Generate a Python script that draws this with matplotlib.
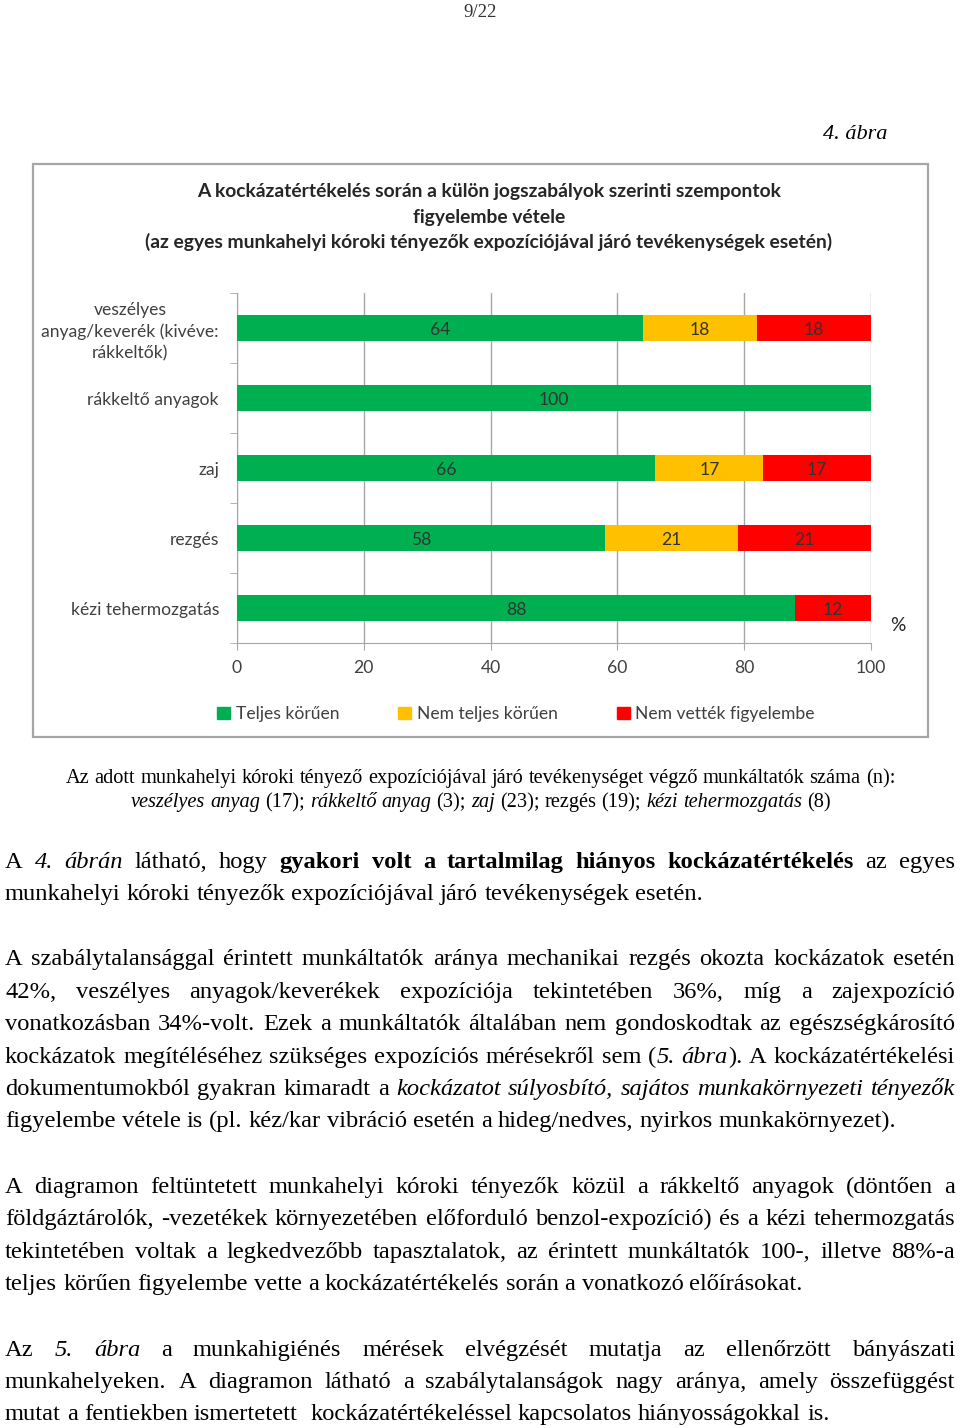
import matplotlib
matplotlib.use('Agg')
import numpy as np
import matplotlib.pyplot as plt
from matplotlib.patches import Rectangle, Patch
from matplotlib import font_manager

# chart data
categories = ['veszélyes\nanyag/keverék (kivéve:\nrákkeltők)', 'rákkeltő anyagok',
              'zaj', 'rezgés', 'kézi tehermozgatás']
teljes = [64, 100, 66, 58, 88]
nem_teljes = [18, 0, 17, 21, 0]
nem_vettek = [18, 0, 17, 21, 12]
series_names = ['Teljes körűen', 'Nem teljes körűen', 'Nem vették figyelembe']
series_colors = ['#00b050', '#ffc000', '#ff0000']
x_ticks = [0, 20, 40, 60, 80, 100]
chart_title = ['A kockázatértékelés során a külön jogszabályok szerinti szempontok',
               'figyelembe vétele',
               '(az egyes munkahelyi kóroki tényezők expozíciójával járó tevékenységek esetén)']

# page text  (_ = italic, * = bold)
page_no = '9/22'
fig_label = '4. ábra'
caption = ['Az adott munkahelyi kóroki tényező expozíciójával járó tevékenységet végző munkáltatók száma (n):',
           '_veszélyes anyag_ (17); _rákkeltő anyag_ (3); _zaj_ (23); rezgés (19); _kézi tehermozgatás_ (8)']
paragraphs = [
    ['A _4. ábrán_ látható, hogy *gyakori volt a tartalmilag hiányos kockázatértékelés* az egyes',
     'munkahelyi kóroki tényezők expozíciójával járó tevékenységek esetén.'],
    ['A szabálytalansággal érintett munkáltatók aránya mechanikai rezgés okozta kockázatok esetén',
     '42%, veszélyes anyagok/keverékek expozíciója tekintetében 36%, míg a zajexpozíció',
     'vonatkozásban 34%-volt. Ezek a munkáltatók általában nem gondoskodtak az egészségkárosító',
     'kockázatok megítéléséhez szükséges expozíciós mérésekről sem (_5. ábra_). A kockázatértékelési',
     'dokumentumokból gyakran kimaradt a _kockázatot súlyosbító, sajátos munkakörnyezeti tényezők_',
     'figyelembe vétele is (pl. kéz/kar vibráció esetén a hideg/nedves, nyirkos munkakörnyezet).'],
    ['A diagramon feltüntetett munkahelyi kóroki tényezők közül a rákkeltő anyagok (döntően a',
     'földgáztárolók, -vezetékek környezetében előforduló benzol-expozíció) és a kézi tehermozgatás',
     'tekintetében voltak a legkedvezőbb tapasztalatok, az érintett munkáltatók 100-, illetve 88%-a',
     'teljes körűen figyelembe vette a kockázatértékelés során a vonatkozó előírásokat.'],
    ['Az _5. ábra_ a munkahigiénés mérések elvégzését mutatja az ellenőrzött bányászati',
     'munkahelyeken. A diagramon látható a szabálytalanságok nagy aránya, amely összefüggést',
     'mutat a fentiekben ismertetett  kockázatértékeléssel kapcsolatos hiányosságokkal is.'],
]
para_line_y = [[860, 892], [957, 990, 1022, 1055, 1087, 1119],
               [1185, 1217, 1250, 1282], [1348, 1380, 1412]]

W, H = 960, 1428
fig = plt.figure(figsize=(9.6, 14.28), dpi=100)
renderer = fig.canvas.get_renderer()

have = {f.name for f in font_manager.fontManager.ttflist}
sans = 'Liberation Sans Narrow' if 'Liberation Sans Narrow' in have else 'Lato'
serif = 'Liberation Serif'


def fx(x):
    return x / W


def fy(y):
    return 1 - y / H


def width_of(s, **kw):
    t = fig.text(0, 0, s, **kw)
    w = t.get_window_extent(renderer).width
    t.remove()
    return w


def size_for(s, target, **kw):
    return 10 * target / width_of(s, fontsize=10, **kw)


def parse(line):
    # split a marked line into words made of (text, style) segments
    words, cur, buf, style = [], [], '', 'n'
    for ch in line:
        if ch in '_*':
            if buf:
                cur.append((buf, style))
                buf = ''
            mark = 'i' if ch == '_' else 'b'
            style = 'n' if style == mark else mark
        elif ch == ' ':
            if buf:
                cur.append((buf, style))
                buf = ''
            words.append(cur)
            cur = []
        else:
            buf += ch
    if buf:
        cur.append((buf, style))
    words.append(cur)
    return words


def seg_kw(style, size):
    kw = dict(fontsize=size, family=serif, color='black', va='baseline', ha='left')
    if style == 'i':
        kw['style'] = 'italic'
    if style == 'b':
        kw['weight'] = 'bold'
    return kw


def put_line(line, y, size, x0=5, x1=955, mode='left'):
    words = parse(line)
    objs, widths = [], []
    for wd in words:
        row = []
        for txt, st in wd:
            t = fig.text(0, fy(y), txt, **seg_kw(st, size))
            row.append((t, t.get_window_extent(renderer).width))
        objs.append(row)
        widths.append(sum(w for _, w in row))
    space = 0.25 * size * 100 / 72
    total = sum(widths) + space * (len(words) - 1)
    if mode == 'justify' and len(words) > 1:
        gap = (x1 - x0 - sum(widths)) / (len(words) - 1)
        x = x0
    else:
        gap = space
        x = x0 if mode == 'left' else (x0 + x1) / 2 - total / 2
    for row, w in zip(objs, widths):
        xx = x
        for t, sw in row:
            t.set_x(fx(xx))
            xx += sw
        x += w + gap


# ---------- page header ----------
fig.text(fx(480), fy(17), page_no, fontsize=13.5, family=serif, ha='center', va='baseline', color='#333333')
fig.text(fx(887), fy(139), fig_label, fontsize=16, family=serif, style='italic',
         ha='right', va='baseline')

# ---------- chart ----------
fig.add_artist(Rectangle((fx(33), fy(737)), fx(928) - fx(33), fy(164) - fy(737),
                         transform=fig.transFigure, fill=False, edgecolor='#a6a6a6', lw=1.6))

tsize = size_for(chart_title[0], 585, family=sans, weight='bold')
for i, ln in enumerate(chart_title):
    fig.text(fx(489), fy(192 + 25 * i), ln, fontsize=tsize, family=sans, weight='bold',
             ha='center', va='center', color='#262626')

csize = size_for('kézi tehermozgatás', 148, family=sans)
ax = fig.add_axes([fx(237), fy(643), fx(871) - fx(237), fy(293) - fy(643)])
y = np.arange(len(categories))
left = np.zeros(len(categories))
for vals, name, col in zip([teljes, nem_teljes, nem_vettek], series_names, series_colors):
    vals = np.array(vals, dtype=float)
    bars = ax.barh(y, vals, left=left, height=0.38, color=col, label=name, zorder=3)
    for b, v in zip(bars, vals):
        if v > 0:
            ax.text(b.get_x() + b.get_width() / 2, b.get_y() + b.get_height() / 2 + 0.03, f'{v:.0f}',
                    ha='center', va='center', fontsize=csize, family=sans, color='#333333', zorder=4)
    left += vals

ax.set_xlim(0, 100)
ax.set_ylim(len(categories) - 0.5, -0.5)
ax.set_xticks(x_ticks)
ax.set_xticklabels([str(v) for v in x_ticks], fontsize=csize, family=sans, color='#404040')
ax.set_yticks(y)
ax.set_yticklabels(categories, fontsize=csize, family=sans, color='#404040',
                   multialignment='center', linespacing=1.4)
ax.set_yticks(np.arange(-0.5, len(categories)), minor=True)
ax.tick_params(axis='y', which='major', length=0, pad=13)
ax.tick_params(axis='y', which='minor', length=5, color='#a6a6a6')
ax.tick_params(axis='x', length=5, color='#a6a6a6', pad=7)
ax.grid(axis='x', color='#a6a6a6', lw=1, zorder=0)
for s in ['top', 'right']:
    ax.spines[s].set_visible(False)
for s in ['left', 'bottom']:
    ax.spines[s].set_color('#a6a6a6')
ax.text(1.043, 0.05, '%', transform=ax.transAxes, fontsize=csize * 1.1, family=sans,
        color='#262626', ha='center', va='center')

handles = [Patch(color=c) for c in series_colors]
fig.legend(handles, series_names, loc='center', bbox_to_anchor=(fx(516), fy(714)), ncol=3,
           frameon=False, prop={'family': sans, 'size': csize}, handlelength=0.75,
           handleheight=0.75, handletextpad=0.3, columnspacing=3.4, labelcolor='#404040')

# ---------- caption ----------
capsize = size_for(caption[0], 833, family=serif)
put_line(caption[0], 783, capsize, 64, 897, mode='center')
put_line(caption[1], 807, capsize, 64, 897, mode='center')

# ---------- body text ----------
bsize = size_for(paragraphs[0][1], 698, family=serif)
for para, ys in zip(paragraphs, para_line_y):
    for k, (ln, yy) in enumerate(zip(para, ys)):
        put_line(ln, yy + 8, bsize, mode='justify' if k < len(para) - 1 else 'left')

fig.savefig('out.png', dpi=100)
